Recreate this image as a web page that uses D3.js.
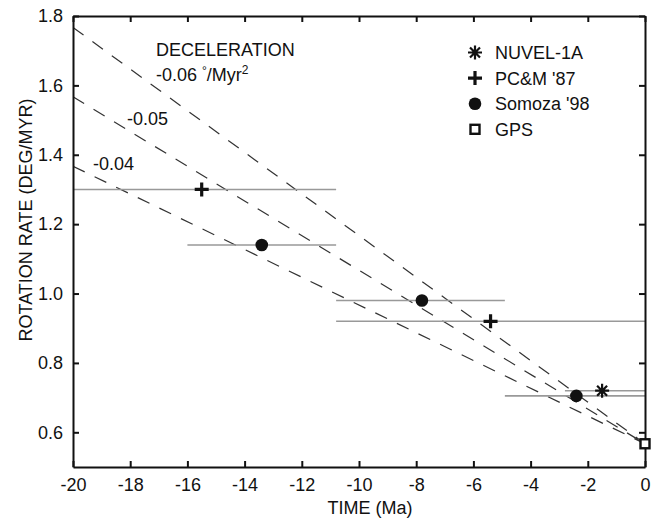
<!DOCTYPE html>
<html>
<head>
<meta charset="utf-8">
<script src="https://cdn.jsdelivr.net/npm/d3@7"></script>
<style>
  body { margin: 0; background: #fff; }
  svg { display: block; font-family: "Liberation Sans", Arial, sans-serif; }
  .axis text { font-size: 18px; fill: #111; }
  .axis path, .axis line { stroke: #111; stroke-width: 2; }
</style>
</head>
<body>
<div id="chart"></div>
<script>
// values
var xTicks = [-20, -18, -16, -14, -12, -10, -8, -6, -4, -2, 0];
var yTicks = [0.6, 0.8, 1.0, 1.2, 1.4, 1.6, 1.8];

var nuvel = [{t: -1.5, rate: 0.72, lo: -2.8, hi: 0}];
var pcm = [
  {t: -15.5, rate: 1.30, lo: -20, hi: -10.8},
  {t: -5.4, rate: 0.92, lo: -10.8, hi: 0}
];
var somoza = [
  {t: -13.4, rate: 1.14, lo: -16, hi: -10.8},
  {t: -7.8, rate: 0.98, lo: -10.8, hi: -4.9},
  {t: -2.4, rate: 0.705, lo: -4.9, hi: 0}
];
var gps = [{t: 0, rate: 0.567}];

// deceleration lines through the GPS rate
var decel = [0.06, 0.05, 0.04];
var decelLabels = ["-0.05", "-0.04"];

var legendNames = ["NUVEL-1A", "PC&M '87", "Somoza '98", "GPS"];

var margin = {top: 16, right: 11, bottom: 53, left: 73};
var W = 656, H = 520;
var width = W - margin.left - margin.right;
var height = H - margin.top - margin.bottom;

var svg = d3.select("#chart").append("svg")
  .attr("width", W).attr("height", H);

var g = svg.append("g")
  .attr("transform", "translate(" + margin.left + "," + margin.top + ")");

var x = d3.scaleLinear().domain([-20, 0]).range([0, width]);
var y = d3.scaleLinear().domain([0.5, 1.8]).range([height, 0]);

svg.append("defs").append("clipPath").attr("id", "clip")
  .append("rect").attr("width", width).attr("height", height);

var plot = g.append("g").attr("clip-path", "url(#clip)");

// dashed deceleration lines
var line = d3.line().x(function(d) { return x(d[0]); }).y(function(d) { return y(d[1]); });
plot.selectAll(".decel")
  .data(decel)
  .enter().append("path")
  .attr("class", "decel")
  .attr("d", function(r) {
    var r0 = gps[0].rate;
    return line([[-20, r0 + r * 20], [0, r0]]);
  })
  .attr("fill", "none")
  .attr("stroke", "#333")
  .attr("stroke-width", 1.2)
  .attr("stroke-dasharray", "13,11");

// error bars
var all = nuvel.concat(pcm, somoza);
plot.selectAll(".err")
  .data(all)
  .enter().append("line")
  .attr("class", "err")
  .attr("x1", function(d) { return x(d.lo); })
  .attr("x2", function(d) { return x(d.hi); })
  .attr("y1", function(d) { return y(d.rate); })
  .attr("y2", function(d) { return y(d.rate); })
  .attr("stroke", "#999")
  .attr("stroke-width", 1.6);

// axes, ticks pointing inward
g.append("g").attr("class", "axis")
  .attr("transform", "translate(0," + height + ")")
  .call(d3.axisBottom(x).tickValues(xTicks).tickSizeInner(-6).tickSizeOuter(0).tickPadding(11)
    .tickFormat(function(d) { return d3.format("d")(d).replace("−", "-"); }));
g.append("g").attr("class", "axis")
  .call(d3.axisTop(x).tickValues(xTicks).tickSizeInner(-6).tickSizeOuter(0).tickFormat(""));
g.append("g").attr("class", "axis")
  .call(d3.axisLeft(y).tickValues(yTicks).tickSizeInner(-6).tickSizeOuter(0).tickPadding(10)
    .tickFormat(d3.format(".1f")));
g.append("g").attr("class", "axis")
  .attr("transform", "translate(" + width + ",0)")
  .call(d3.axisRight(y).tickValues(yTicks).tickSizeInner(-6).tickSizeOuter(0).tickFormat(""));

// symbols
function drawSymbol(sel, kind) {
  if (kind == "nuvel") {
    // eight-armed star
    sel.append("path")
      .attr("d", "M-7,0H7M0,-7V7M-5,-5L5,5M-5,5L5,-5")
      .attr("fill", "none").attr("stroke", "#111").attr("stroke-width", 2.2);
  } else if (kind == "pcm") {
    sel.append("path")
      .attr("d", "M-7,0H7M0,-7V7")
      .attr("fill", "none").attr("stroke", "#111").attr("stroke-width", 3.2);
  } else if (kind == "somoza") {
    sel.append("circle").attr("r", 6.3).attr("fill", "#111");
  } else {
    sel.append("rect").attr("x", -4.5).attr("y", -4.5).attr("width", 9).attr("height", 9)
      .attr("fill", "#fff").attr("stroke", "#111").attr("stroke-width", 2.4);
  }
}

var sets = [["nuvel", nuvel], ["pcm", pcm], ["somoza", somoza], ["gps", gps]];
sets.forEach(function(s) {
  g.selectAll(".pt-" + s[0])
    .data(s[1])
    .enter().append("g")
    .attr("class", "pt-" + s[0])
    .attr("transform", function(d) { return "translate(" + x(d.t) + "," + y(d.rate) + ")"; })
    .each(function() { drawSymbol(d3.select(this), s[0]); });
});

// legend
var legend = g.selectAll(".leg")
  .data(legendNames)
  .enter().append("g")
  .attr("class", "leg")
  .attr("transform", function(d, i) { return "translate(402," + (36.5 + i * 25.6) + ")"; });
legend.each(function(d, i) { drawSymbol(d3.select(this), sets[i][0]); });
legend.append("text")
  .attr("x", 20).attr("y", 6.5)
  .style("font-size", "18px").attr("fill", "#111")
  .text(function(d) { return d; });

// annotations
g.append("text").attr("x", 83).attr("y", 40)
  .style("font-size", "18px").attr("fill", "#111").text("DECELERATION");
var t6 = g.append("text").attr("x", 83).attr("y", 65)
  .style("font-size", "18px").attr("fill", "#111");
t6.append("tspan").text("-0.06 ");
t6.append("tspan").style("font-size", "12px").attr("dy", -6).text("°");
t6.append("tspan").attr("dy", 6).text("/Myr");
t6.append("tspan").style("font-size", "12px").attr("dy", -7).text("2");

g.selectAll(".dlab")
  .data(decelLabels)
  .enter().append("text")
  .attr("class", "dlab")
  .attr("x", function(d, i) { return [54, 20][i]; })
  .attr("y", function(d, i) { return [109, 154][i]; })
  .style("font-size", "18px").attr("fill", "#111")
  .text(function(d) { return d; });

// axis titles
svg.append("text")
  .attr("x", 370).attr("y", 514)
  .attr("text-anchor", "middle")
  .style("font-size", "18px").attr("fill", "#111")
  .text("TIME (Ma)");
svg.append("text")
  .attr("transform", "translate(32,220) rotate(-90)")
  .attr("text-anchor", "middle")
  .style("font-size", "18px").attr("fill", "#111")
  .text("ROTATION RATE (DEG/MYR)");
</script>
</body>
</html>
